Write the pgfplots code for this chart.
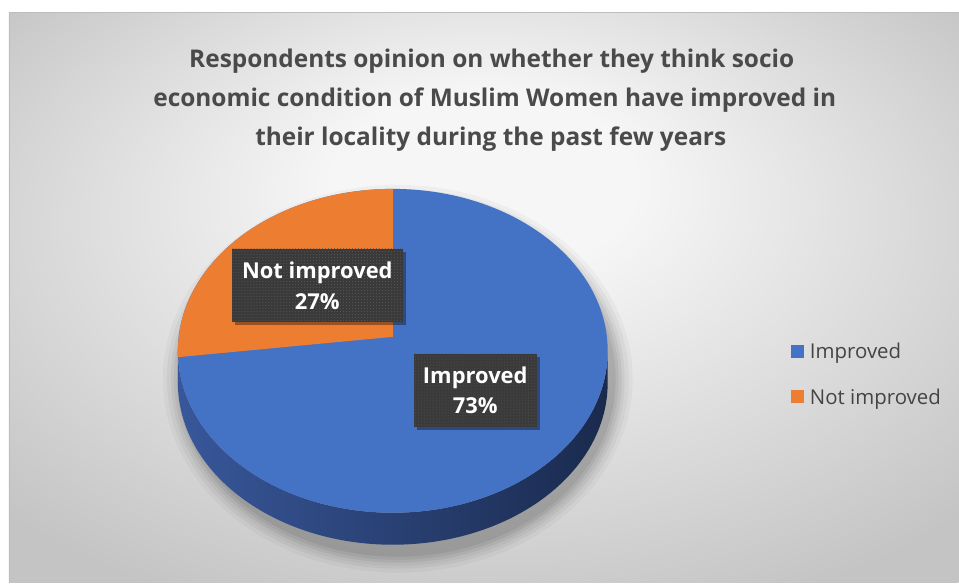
\documentclass[border=0pt]{standalone}
\usepackage{pgfplots}
\pgfplotsset{compat=1.18}
\usepackage{pgfplotstable}
\usepackage{fontspec}
\setmainfont{Open Sans}
\usetikzlibrary{patterns,shadows}

\definecolor{impblue}{HTML}{4472C4}
\definecolor{notorange}{HTML}{ED7D31}
\definecolor{sideL}{HTML}{38579A}
\definecolor{sideM}{HTML}{1E3159}
\definecolor{sideR}{HTML}{1A2A4D}
\definecolor{titlegray}{HTML}{4A4A4A}
\definecolor{legtext}{HTML}{444444}
\definecolor{labelbg}{HTML}{3A3A3A}
\definecolor{labeldot}{HTML}{5A5A5A}
\definecolor{bgin}{HTML}{F6F6F6}
\definecolor{bgout}{HTML}{C4C4C4}
\definecolor{framec}{HTML}{BDBDBD}

\pgfdeclareradialshading{chartbg}{\pgfpoint{0bp}{12bp}}{color(0bp)=(bgin); color(8bp)=(bgin); color(34bp)=(bgout); color(50bp)=(bgout)}

\newcommand\titlefont{\fontsize{24.5}{39}\selectfont\bfseries}
\newcommand\labelfont{\fontsize{22}{31}\selectfont\bfseries}
\newcommand\legfont{\fontsize{20.5}{24}\selectfont}

\pgfplotstableread{
label value
Improved 73
{Not improved} 27
}\piedata

\begin{document}
\begin{tikzpicture}
\pgfplotstablegetelem{0}{value}\of\piedata \let\vA\pgfplotsretval
\pgfplotstablegetelem{1}{value}\of\piedata \let\vB\pgfplotsretval
% boundary angle (counter-clockwise from 12 o'clock)
\pgfmathsetmacro\thetaB{90+360*\vB/(\vA+\vB)}
\pgfmathsetmacro\uu{cos(\thetaB)}
\pgfmathsetmacro\vv{sin(\thetaB)}
\pgfmathsetmacro\dd{1+0.0865*\vv}
\pgfmathsetmacro\bx{393+214.2*\uu/\dd}
\pgfmathsetmacro\by{246+160.8*\vv/\dd}
\pgfmathsetmacro\phiB{atan2((\by-232)/162,(\bx-393)/215)}
\pgfmathsetmacro\phiB{\phiB<0 ? \phiB+360 : \phiB}
\begin{axis}[
  scale only axis, width=959bp, height=583bp,
  xmin=0, xmax=959, ymin=0, ymax=583,
  hide axis, clip=false,
  legend style={draw=none, fill=none, at={(axis cs:791,240)}, anchor=north west,
    inner sep=0pt, row sep=28.5bp, font=\legfont, text=legtext,
    nodes={inner sep=0pt}},
  legend cell align=left,
  legend image code/.code={\fill[#1, draw=none] (0bp,-6bp) rectangle (13bp,7bp); \path (19bp,0bp);},
]
\fill[white] (axis cs:0,0) rectangle (axis cs:959,583);
\shade[shading=chartbg] (axis cs:9,0) rectangle (axis cs:959,570);
\draw[framec, line width=1bp] (axis cs:9.5,0) -- (axis cs:9.5,570) -- (axis cs:959,570);

% title
\node[anchor=base, font=\titlefont, text=titlegray] at (axis cs:492,515) {Respondents opinion on whether they think socio};
\node[anchor=base, font=\titlefont, text=titlegray] at (axis cs:495,476) {economic condition of Muslim Women have improved in};
\node[anchor=base, font=\titlefont, text=titlegray] at (axis cs:491,437) {their locality during the past few years};

% soft shadow
\fill[black, opacity=0.06] (axis cs:398,204) ellipse [x radius=218bp, y radius=178bp];
\fill[black, opacity=0.06] (axis cs:398,204) ellipse [x radius=221bp, y radius=181bp];
\fill[black, opacity=0.05] (axis cs:398,204) ellipse [x radius=224bp, y radius=184bp];
\fill[black, opacity=0.045] (axis cs:398,204) ellipse [x radius=227bp, y radius=187bp];
\fill[black, opacity=0.04] (axis cs:398,204) ellipse [x radius=231bp, y radius=190bp];
\fill[black, opacity=0.03] (axis cs:398,204) ellipse [x radius=235bp, y radius=194bp];

% pie side
\shade[left color=sideL, middle color=sideM, right color=sideR]
  (axis cs:178,232) arc[start angle=180, end angle=360, x radius=215bp, y radius=162bp]
  -- ++(0bp,-32bp) arc[start angle=0, end angle=-180, x radius=215bp, y radius=162bp] -- cycle;
% pie top
\fill[impblue] (axis cs:393,232) ellipse [x radius=215bp, y radius=162bp];
\fill[notorange] (axis cs:393,246) -- (axis cs:393,394)
  arc[start angle=90, end angle=\phiB, x radius=215bp, y radius=162bp] -- cycle;

% data labels
\node[fill=labelbg, text=white, font=\labelfont, minimum width=171bp, minimum height=73bp,
  align=center, inner sep=0pt,
  drop shadow={shadow xshift=3bp, shadow yshift=-3bp, opacity=0.35, fill=black},
  postaction={pattern=dots, pattern color=labeldot}]
  at (axis cs:317.5,297.5) {Not improved\\\vB\%};
\node[fill=labelbg, text=white, font=\labelfont, minimum width=123bp, minimum height=73bp,
  align=center, inner sep=0pt,
  drop shadow={shadow xshift=3bp, shadow yshift=-3bp, opacity=0.35, fill=black},
  postaction={pattern=dots, pattern color=labeldot}]
  at (axis cs:475.5,192.5) {Improved\\\vA\%};

\addlegendimage{fill=impblue}
\addlegendentry{Improved}
\addlegendimage{fill=notorange}
\addlegendentry{Not improved}
\end{axis}
\end{tikzpicture}
\end{document}
